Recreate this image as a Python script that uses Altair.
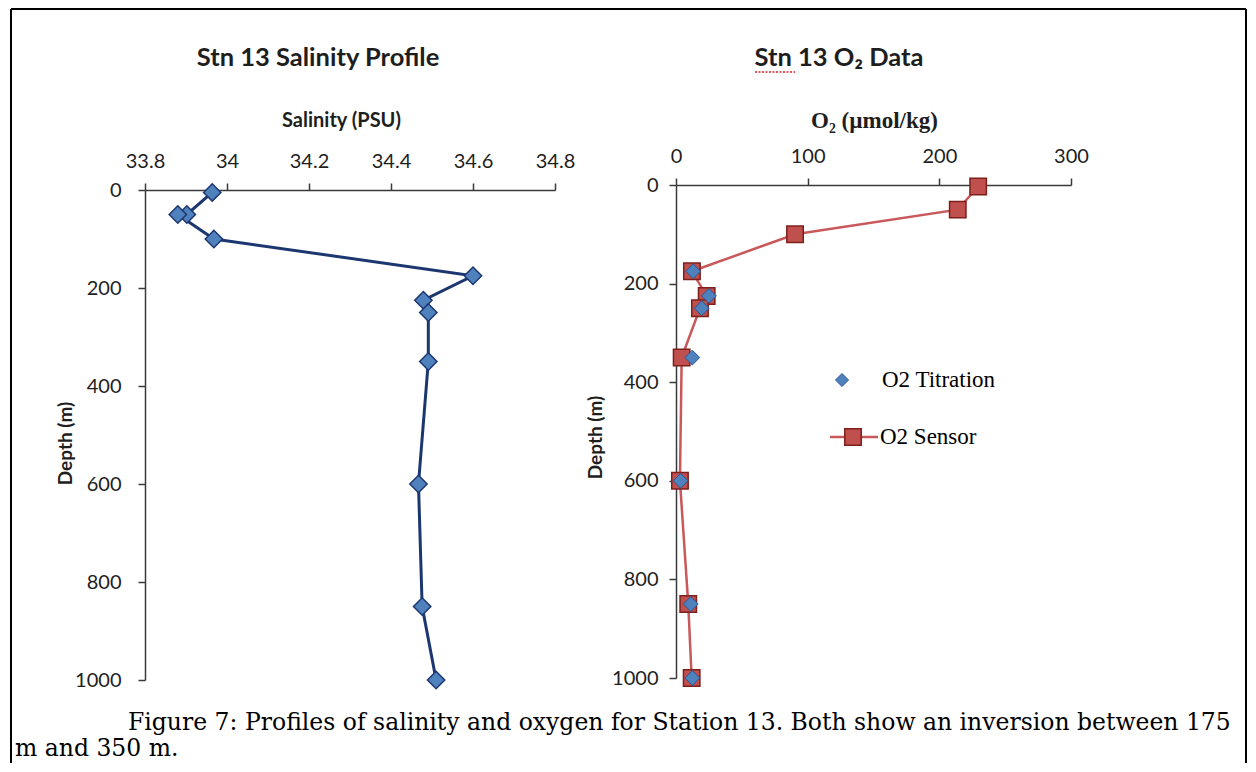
import altair as alt
import pandas as pd

# ---------------- data ----------------
sal_depth = [5, 50, 50, 100, 175, 225, 250, 350, 600, 850, 1000]
salinity = [33.964, 33.902, 33.880, 33.968, 34.600, 34.479, 34.491, 34.491, 34.467, 34.476, 34.510]

o2_sensor_depth = [3, 50, 100, 175, 225, 250, 350, 600, 850, 1000]
o2_sensor = [229.5, 214.0, 90.4, 12.1, 23.3, 18.2, 4.3, 3.0, 9.3, 11.9]

o2_titr_depth = [175, 225, 250, 350, 600, 850, 1000]
o2_titration = [13.0, 25.0, 19.5, 12.4, 3.5, 11.2, 12.4]

sal_ticks = [33.8, 34.0, 34.2, 34.4, 34.6, 34.8]
o2_ticks = [0, 100, 200, 300]
depth_ticks = [0, 200, 400, 600, 800, 1000]

panel_titles = ["Stn 13 Salinity Profile", "Stn 13 O\u2082 Data"]
x_titles = ["Salinity (PSU)", "O\u2082 (\u00b5mol/kg)"]
y_title = "Depth (m)"
legend_labels = ["O2 Titration", "O2 Sensor"]
caption = [
    "Figure 7: Profiles of salinity and oxygen for Station 13. Both show an inversion between 175",
    "m and 350 m.",
]

# ---------------- tables ----------------
sal_df = pd.DataFrame({"idx": list(range(len(salinity))), "depth": sal_depth, "salinity": salinity})
sens_df = pd.DataFrame({"idx": list(range(len(o2_sensor))), "depth": o2_sensor_depth, "o2": o2_sensor})
titr_df = pd.DataFrame({"depth": o2_titr_depth, "o2": o2_titration})
dummy = pd.DataFrame({"k": [0]})

SAL_LINE = "#1C3770"
BLUE = "#4F81BD"
BLUE_EDGE = "#2A5596"
RED = "#C0504D"
SENS_LINE = "#C9585A"
RED_EDGE = "#7E1F1C"
TXT = "#1e1e1e"

# ---------------- left panel: salinity ----------------
x_sal = alt.X(
    "salinity:Q",
    scale=alt.Scale(domain=[33.8, 34.8], nice=False, zero=False),
    axis=alt.Axis(
        orient="top", values=sal_ticks, format="~g", title=x_titles[0],
        titleFont="Lato", titleFontSize=20, titleFontWeight="bold",
        titleX=196, titleY=-64, titleAlign="center", titleBaseline="alphabetic", titleAngle=0,
        labelPadding=12, labelFlush=False, labelOverlap=False,
    ),
)
y_left = alt.Y(
    "depth:Q",
    scale=alt.Scale(domain=[0, 1000], reverse=True, nice=False, zero=False),
    axis=alt.Axis(
        values=depth_ticks, format="d", title=y_title,
        titleFont="Lato", titleFontSize=19, titleFontWeight="bold",
        titleX=-80, titleY=253, titleAngle=270, titleAlign="center", titleBaseline="middle",
        labelPadding=17, labelFlush=False, labelOverlap=False,
    ),
)

sal_line = alt.Chart(sal_df).mark_line(color=SAL_LINE, strokeWidth=3).encode(
    x=x_sal, y=y_left, order="idx:Q"
)
sal_pts = alt.Chart(sal_df).mark_point(
    shape="diamond", filled=True, size=300, fill=BLUE, stroke=SAL_LINE, strokeWidth=1.5, opacity=1
).encode(x=x_sal, y=y_left)

left_title = alt.Chart(dummy).mark_text(
    align="center", baseline="alphabetic", font="Lato", fontWeight="bold", fontSize=25.5, color=TXT
).encode(x=alt.value(173), y=alt.value(-124), text=alt.value(panel_titles[0]))

frame_top = alt.Chart(dummy).mark_rule(color="black", strokeWidth=2, clip=False).encode(
    x=alt.value(-134), x2=alt.value(1101), y=alt.value(-181)
)
frame_left = alt.Chart(dummy).mark_rule(color="black", strokeWidth=2, clip=False).encode(
    x=alt.value(-134), y=alt.value(-181), y2=alt.value(573)
)
frame_right = alt.Chart(dummy).mark_rule(color="black", strokeWidth=2, clip=False).encode(
    x=alt.value(1101), y=alt.value(-181), y2=alt.value(573)
)
cap1 = alt.Chart(dummy).mark_text(
    align="left", baseline="alphabetic", font="DejaVu Serif", fontSize=23.5, color="black"
).encode(x=alt.value(-17), y=alt.value(540), text=alt.value(caption[0]))
cap2 = alt.Chart(dummy).mark_text(
    align="left", baseline="alphabetic", font="DejaVu Serif", fontSize=23.5, color="black"
).encode(x=alt.value(-130), y=alt.value(566), text=alt.value(caption[1]))

left = alt.layer(
    sal_line, sal_pts, left_title, frame_top, frame_left, frame_right, cap1, cap2
).properties(width=410, height=490)

# ---------------- right panel: oxygen ----------------
x_o2 = alt.X(
    "o2:Q",
    scale=alt.Scale(domain=[0, 300], nice=False),
    axis=alt.Axis(
        orient="top", values=o2_ticks, title=x_titles[1], offset=5,
        titleFont="Liberation Serif", titleFontSize=23, titleFontWeight="bold",
        titleX=198, titleY=-58, titleAlign="center", titleBaseline="alphabetic", titleAngle=0,
        labelPadding=12, labelFlush=False, labelOverlap=False,
    ),
)
y_right = alt.Y(
    "depth:Q",
    scale=alt.Scale(domain=[0, 1000], range=[-5, 488], nice=False, zero=False),
    axis=alt.Axis(
        values=depth_ticks, format="d", title=y_title,
        titleFont="Lato", titleFontSize=19, titleFontWeight="bold",
        titleX=-81, titleY=247, titleAngle=270, titleAlign="center", titleBaseline="middle",
        labelPadding=11, labelFlush=False, labelOverlap=False,
    ),
)

sens_line = alt.Chart(sens_df).mark_line(color=SENS_LINE, strokeWidth=2.5).encode(
    x=x_o2, y=y_right, order="idx:Q"
)
sens_pts = alt.Chart(sens_df).mark_point(
    shape="square", filled=True, size=270, fill=RED, stroke=RED_EDGE, strokeWidth=1.5, opacity=1
).encode(x=x_o2, y=y_right)
titr_pts = alt.Chart(titr_df).mark_point(
    shape="diamond", filled=True, size=220, fill=BLUE, stroke=BLUE_EDGE, strokeWidth=1, opacity=1
).encode(x=x_o2, y=y_right)

right_title = alt.Chart(dummy).mark_text(
    align="center", baseline="alphabetic", font="Lato", fontWeight="bold", fontSize=25.5, color=TXT
).encode(x=alt.value(163), y=alt.value(-124), text=alt.value(panel_titles[1]))
squiggle = alt.Chart(dummy).mark_rule(color="#E02020", strokeWidth=1.5, strokeDash=[2, 1.5], clip=False).encode(
    x=alt.value(79), x2=alt.value(119), y=alt.value(-118)
)

leg_diamond = alt.Chart(dummy).mark_point(
    shape="diamond", filled=True, size=170, fill=BLUE, stroke=BLUE_EDGE, strokeWidth=1, opacity=1
).encode(x=alt.value(166), y=alt.value(190))
leg_text1 = alt.Chart(dummy).mark_text(
    align="left", baseline="middle", font="Liberation Serif", fontSize=23, color="black"
).encode(x=alt.value(206), y=alt.value(190), text=alt.value(legend_labels[0]))
leg_line = alt.Chart(dummy).mark_rule(color=SENS_LINE, strokeWidth=2.5).encode(
    x=alt.value(154), x2=alt.value(202), y=alt.value(247)
)
leg_square = alt.Chart(dummy).mark_point(
    shape="square", filled=True, size=270, fill=RED, stroke=RED_EDGE, strokeWidth=1.5, opacity=1
).encode(x=alt.value(177), y=alt.value(247))
leg_text2 = alt.Chart(dummy).mark_text(
    align="left", baseline="middle", font="Liberation Serif", fontSize=23, color="black"
).encode(x=alt.value(204), y=alt.value(247), text=alt.value(legend_labels[1]))

right = alt.layer(
    sens_line, sens_pts, titr_pts, right_title, squiggle,
    leg_line, leg_square, leg_diamond, leg_text1, leg_text2
).properties(width=395, height=490)

chart = (
    alt.hconcat(left, right, spacing=121, bounds="flush")
    .resolve_scale(x="independent", y="independent")
    .properties(padding={"left": 2, "top": 0, "right": 0, "bottom": 0}, background="white")
    .configure_view(stroke=None)
    .configure_axis(
        domainColor="#3a3a3a", domainWidth=1.5, tickColor="#3a3a3a", tickWidth=1.5, tickSize=7,
        grid=False, labelFont="Lato", labelFontSize=20, labelColor=TXT, titleColor=TXT,
    )
)

chart.save("out.html", embed_options={"renderer": "svg", "actions": False})
